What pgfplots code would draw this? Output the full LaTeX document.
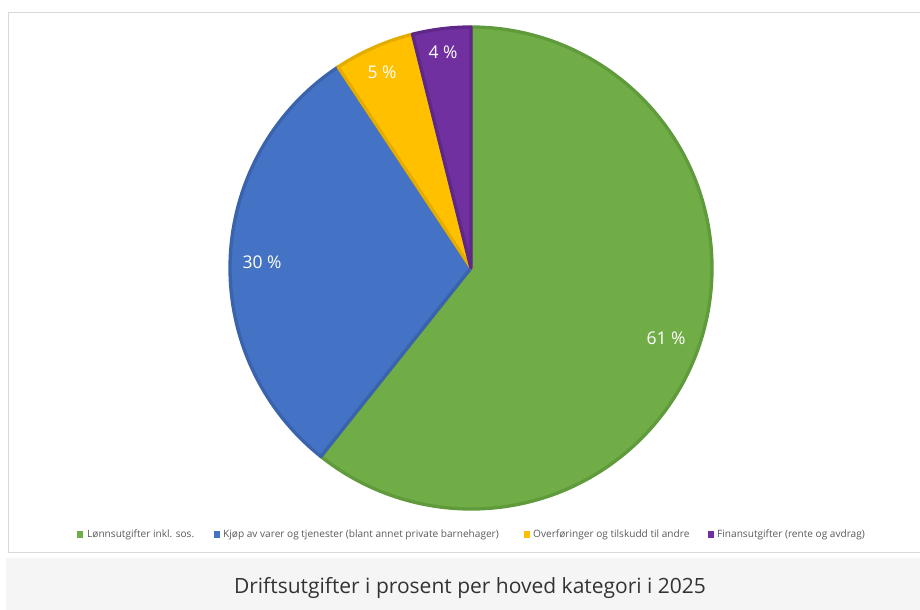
\documentclass[border=0pt]{standalone}
\usepackage{pgfplots}
\pgfplotsset{compat=1.18}
\usepackage{pgfplotstable}
\usepackage{fontspec}
\setmainfont{Open Sans}
\definecolor{pgreen}{HTML}{70AD47}
\definecolor{pgreenD}{HTML}{5F9A3C}
\definecolor{pblue}{HTML}{4472C4}
\definecolor{pblueD}{HTML}{3A63AD}
\definecolor{pyellow}{HTML}{FFC000}
\definecolor{pyellowD}{HTML}{E5AC00}
\definecolor{ppurple}{HTML}{7030A0}
\definecolor{ppurpleD}{HTML}{5F2888}
\definecolor{legtext}{HTML}{595959}
\definecolor{captext}{HTML}{333333}
\definecolor{capbg}{HTML}{F5F5F5}
\definecolor{framec}{HTML}{D9D9D9}

\pgfplotstableread{
label value
Lonn 60.7
Kjop 30.0
Overf 5.4
Finans 3.9
}\piedata

\begin{document}
\begin{tikzpicture}
\pgfplotstablegetelem{0}{value}\of\piedata \let\va\pgfplotsretval
\pgfplotstablegetelem{1}{value}\of\piedata \let\vb\pgfplotsretval
\pgfplotstablegetelem{2}{value}\of\piedata \let\vc\pgfplotsretval
\pgfplotstablegetelem{3}{value}\of\piedata \let\vd\pgfplotsretval
\pgfmathsetmacro\aA{90-3.6*\va}
\pgfmathsetmacro\aB{\aA-3.6*\vb}
\pgfmathsetmacro\aC{\aB-3.6*\vc}
\pgfmathsetmacro\aD{\aC-3.6*\vd}
\begin{axis}[
  at={(0,0)}, anchor=south west,
  scale only axis, width=920bp, height=610bp,
  xmin=0, xmax=920, ymin=0, ymax=610,
  hide axis, clip=false,
]
% caption band and frame
\fill[capbg] (axis cs:6,0) rectangle (axis cs:920,52);
\draw[framec, line width=1bp] (axis cs:925,597) -- (axis cs:8,597) -- (axis cs:8,57) -- (axis cs:925,57);
\node[font=\fontsize{21bp}{24bp}\selectfont, text=captext] at (axis cs:470,22) {Driftsutgifter i prosent per hoved kategori i 2025};
% pie
\filldraw[fill=pgreen, draw=pgreenD, line width=3.3bp, line join=round] (axis cs:471,342) -- ++(90:241bp) arc[start angle=90, end angle=\aA, radius=241bp] -- cycle;
\filldraw[fill=pblue, draw=pblueD, line width=3.3bp, line join=round] (axis cs:471,342) -- ++(\aA:241bp) arc[start angle=\aA, end angle=\aB, radius=241bp] -- cycle;
\filldraw[fill=pyellow, draw=pyellowD, line width=3.3bp, line join=round] (axis cs:471,342) -- ++(\aB:241bp) arc[start angle=\aB, end angle=\aC, radius=241bp] -- cycle;
\filldraw[fill=ppurple, draw=ppurpleD, line width=3.3bp, line join=round] (axis cs:471,342) -- ++(\aC:241bp) arc[start angle=\aC, end angle=\aD, radius=241bp] -- cycle;
% data labels
\begin{scope}[every node/.style={text=white, font=\fontsize{17.5bp}{20bp}\selectfont}]
\node at (axis cs:666,272) {61 \%};
\node at (axis cs:262,348) {30 \%};
\node at (axis cs:382,538) {5 \%};
\node at (axis cs:443,558) {4 \%};
\end{scope}
% legend
\begin{scope}[every node/.style={text=legtext, font=\fontsize{10.1bp}{11bp}\selectfont, anchor=west, inner sep=0pt}]
\fill[pgreen] (axis cs:77,72) rectangle (axis cs:83,78.5);
\node at (axis cs:87,75.5) {Lønnsutgifter inkl. sos.};
\fill[pblue] (axis cs:214,72) rectangle (axis cs:220,78.5);
\node at (axis cs:223,75.5) {Kjøp av varer og tjenester (blant annet private barnehager)};
\fill[pyellow] (axis cs:524,72) rectangle (axis cs:530,78.5);
\node at (axis cs:533,75.5) {Overføringer og tilskudd til andre};
\fill[ppurple] (axis cs:708,72) rectangle (axis cs:714,78.5);
\node at (axis cs:717,75.5) {Finansutgifter (rente og avdrag)};
\end{scope}
\end{axis}
\pgfresetboundingbox
\useasboundingbox (0,0) rectangle (920bp,610bp);
\end{tikzpicture}
\end{document}
